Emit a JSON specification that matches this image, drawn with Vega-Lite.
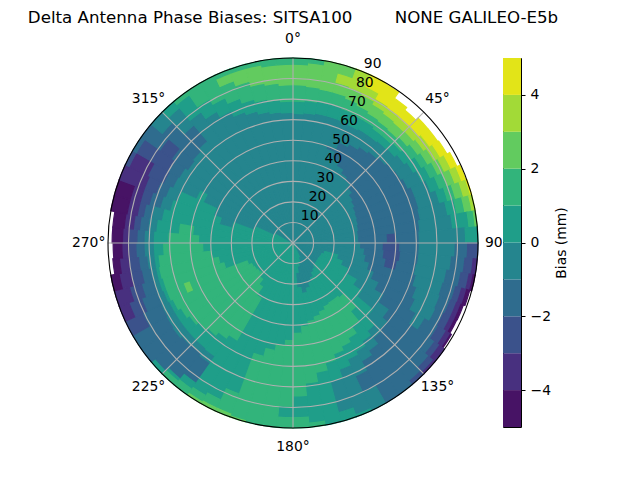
{"$schema":"https://vega.github.io/schema/vega-lite/v6.json","padding":{"left":27,"top":10,"right":0,"bottom":0},"background":"white","bounds":"flush","spacing":25,"config":{"view":{"stroke":null},"font":"DejaVu Sans"},"datasets":{"cells":[
{"a":0,"c":5,"z":0,"w":63,"b":-0.5},{"a":0,"c":5,"z":63,"w":69,"b":0.5},{"a":0,"c":5,"z":69,"w":77,"b":1.5},{"a":0,"c":5,"z":77,"w":87,"b":2.5},{"a":0,"c":5,"z":87,"w":90,"b":1.5},
{"a":5,"c":10,"z":0,"w":63.5,"b":-0.5},{"a":5,"c":10,"z":63.5,"w":69.5,"b":0.5},{"a":5,"c":10,"z":69.5,"w":76.5,"b":1.5},{"a":5,"c":10,"z":76.5,"w":88,"b":2.5},{"a":5,"c":10,"z":88,"w":90,"b":1.5},
{"a":10,"c":15,"z":0,"w":64,"b":-0.5},{"a":10,"c":15,"z":64,"w":70,"b":0.5},{"a":10,"c":15,"z":70,"w":76,"b":1.5},{"a":10,"c":15,"z":76,"w":90,"b":2.5},
{"a":15,"c":20,"z":0,"w":64,"b":-0.5},{"a":15,"c":20,"z":64,"w":70,"b":0.5},{"a":15,"c":20,"z":70,"w":76,"b":1.5},{"a":15,"c":20,"z":76,"w":81,"b":2.5},{"a":15,"c":20,"z":81,"w":85.5,"b":3.5},{"a":15,"c":20,"z":85.5,"w":90,"b":2.5},
{"a":20,"c":25,"z":0,"w":49,"b":-0.5},{"a":20,"c":25,"z":49,"w":50,"b":-1.5},{"a":20,"c":25,"z":50,"w":64,"b":-0.5},{"a":20,"c":25,"z":64,"w":69.5,"b":0.5},{"a":20,"c":25,"z":69.5,"w":75,"b":1.5},{"a":20,"c":25,"z":75,"w":80.5,"b":2.5},{"a":20,"c":25,"z":80.5,"w":90,"b":3.5},
{"a":25,"c":30,"z":0,"w":46,"b":-0.5},{"a":25,"c":30,"z":46,"w":54,"b":-1.5},{"a":25,"c":30,"z":54,"w":63.5,"b":-0.5},{"a":25,"c":30,"z":63.5,"w":69,"b":0.5},{"a":25,"c":30,"z":69,"w":74,"b":1.5},{"a":25,"c":30,"z":74,"w":79.5,"b":2.5},{"a":25,"c":30,"z":79.5,"w":84,"b":3.5},{"a":25,"c":30,"z":84,"w":90,"b":4.5},
{"a":30,"c":35,"z":0,"w":43.5,"b":-0.5},{"a":30,"c":35,"z":43.5,"w":55.5,"b":-1.5},{"a":30,"c":35,"z":55.5,"w":64,"b":-0.5},{"a":30,"c":35,"z":64,"w":69,"b":0.5},{"a":30,"c":35,"z":69,"w":73,"b":1.5},{"a":30,"c":35,"z":73,"w":78,"b":2.5},{"a":30,"c":35,"z":78,"w":81,"b":3.5},{"a":30,"c":35,"z":81,"w":89.5,"b":4.5},
{"a":35,"c":40,"z":0,"w":41.5,"b":-0.5},{"a":35,"c":40,"z":41.5,"w":57,"b":-1.5},{"a":35,"c":40,"z":57,"w":64,"b":-0.5},{"a":35,"c":40,"z":64,"w":68,"b":0.5},{"a":35,"c":40,"z":68,"w":72.5,"b":1.5},{"a":35,"c":40,"z":72.5,"w":77,"b":2.5},{"a":35,"c":40,"z":77,"w":80.5,"b":3.5},{"a":35,"c":40,"z":80.5,"w":86,"b":4.5},
{"a":40,"c":45,"z":0,"w":40,"b":-0.5},{"a":40,"c":45,"z":40,"w":58,"b":-1.5},{"a":40,"c":45,"z":58,"w":64.5,"b":-0.5},{"a":40,"c":45,"z":64.5,"w":68,"b":0.5},{"a":40,"c":45,"z":68,"w":72,"b":1.5},{"a":40,"c":45,"z":72,"w":76.5,"b":2.5},{"a":40,"c":45,"z":76.5,"w":80,"b":3.5},{"a":40,"c":45,"z":80,"w":84.5,"b":4.5},
{"a":45,"c":50,"z":0,"w":38,"b":-0.5},{"a":45,"c":50,"z":38,"w":59,"b":-1.5},{"a":45,"c":50,"z":59,"w":65,"b":-0.5},{"a":45,"c":50,"z":65,"w":69,"b":0.5},{"a":45,"c":50,"z":69,"w":73,"b":1.5},{"a":45,"c":50,"z":73,"w":77,"b":2.5},{"a":45,"c":50,"z":77,"w":80.5,"b":3.5},{"a":45,"c":50,"z":80.5,"w":86,"b":4.5},
{"a":50,"c":55,"z":0,"w":36,"b":-0.5},{"a":50,"c":55,"z":36,"w":60,"b":-1.5},{"a":50,"c":55,"z":60,"w":66.5,"b":-0.5},{"a":50,"c":55,"z":66.5,"w":70.5,"b":0.5},{"a":50,"c":55,"z":70.5,"w":74.5,"b":1.5},{"a":50,"c":55,"z":74.5,"w":78,"b":2.5},{"a":50,"c":55,"z":78,"w":81.5,"b":3.5},{"a":50,"c":55,"z":81.5,"w":86,"b":4.5},
{"a":55,"c":60,"z":0,"w":35,"b":-0.5},{"a":55,"c":60,"z":35,"w":61,"b":-1.5},{"a":55,"c":60,"z":61,"w":68,"b":-0.5},{"a":55,"c":60,"z":68,"w":72.5,"b":0.5},{"a":55,"c":60,"z":72.5,"w":76,"b":1.5},{"a":55,"c":60,"z":76,"w":79.5,"b":2.5},{"a":55,"c":60,"z":79.5,"w":83,"b":3.5},{"a":55,"c":60,"z":83,"w":86.5,"b":4.5},
{"a":60,"c":65,"z":0,"w":34,"b":-0.5},{"a":60,"c":65,"z":34,"w":62,"b":-1.5},{"a":60,"c":65,"z":62,"w":69.5,"b":-0.5},{"a":60,"c":65,"z":69.5,"w":74,"b":0.5},{"a":60,"c":65,"z":74,"w":78,"b":1.5},{"a":60,"c":65,"z":78,"w":81.5,"b":2.5},{"a":60,"c":65,"z":81.5,"w":85,"b":3.5},{"a":60,"c":65,"z":85,"w":88,"b":4.5},
{"a":65,"c":70,"z":0,"w":33.5,"b":-0.5},{"a":65,"c":70,"z":33.5,"w":63.5,"b":-1.5},{"a":65,"c":70,"z":63.5,"w":71.5,"b":-0.5},{"a":65,"c":70,"z":71.5,"w":76,"b":0.5},{"a":65,"c":70,"z":76,"w":80,"b":1.5},{"a":65,"c":70,"z":80,"w":84,"b":2.5},{"a":65,"c":70,"z":84,"w":87.5,"b":3.5},{"a":65,"c":70,"z":87.5,"w":89.5,"b":4.5},
{"a":70,"c":75,"z":0,"w":33,"b":-0.5},{"a":70,"c":75,"z":33,"w":63.5,"b":-1.5},{"a":70,"c":75,"z":63.5,"w":74,"b":-0.5},{"a":70,"c":75,"z":74,"w":78,"b":0.5},{"a":70,"c":75,"z":78,"w":82,"b":1.5},{"a":70,"c":75,"z":82,"w":86,"b":2.5},{"a":70,"c":75,"z":86,"w":89.5,"b":3.5},{"a":70,"c":75,"z":89.5,"w":90,"b":4.5},
{"a":75,"c":80,"z":0,"w":32.5,"b":-0.5},{"a":75,"c":80,"z":32.5,"w":63,"b":-1.5},{"a":75,"c":80,"z":63,"w":76.5,"b":-0.5},{"a":75,"c":80,"z":76.5,"w":81,"b":0.5},{"a":75,"c":80,"z":81,"w":85,"b":1.5},{"a":75,"c":80,"z":85,"w":88.5,"b":2.5},{"a":75,"c":80,"z":88.5,"w":90,"b":3.5},
{"a":80,"c":85,"z":0,"w":32,"b":-0.5},{"a":80,"c":85,"z":32,"w":62,"b":-1.5},{"a":80,"c":85,"z":62,"w":78,"b":-0.5},{"a":80,"c":85,"z":78,"w":86,"b":0.5},{"a":80,"c":85,"z":86,"w":89,"b":1.5},{"a":80,"c":85,"z":89,"w":90,"b":2.5},
{"a":85,"c":90,"z":0,"w":32,"b":-0.5},{"a":85,"c":90,"z":32,"w":46,"b":-1.5},{"a":85,"c":90,"z":46,"w":50,"b":-2.5},{"a":85,"c":90,"z":50,"w":61.5,"b":-1.5},{"a":85,"c":90,"z":61.5,"w":84,"b":-0.5},{"a":85,"c":90,"z":84,"w":90,"b":0.5},
{"a":90,"c":95,"z":0,"w":33,"b":-0.5},{"a":90,"c":95,"z":33,"w":44,"b":-1.5},{"a":90,"c":95,"z":44,"w":52,"b":-2.5},{"a":90,"c":95,"z":52,"w":61.5,"b":-1.5},{"a":90,"c":95,"z":61.5,"w":79,"b":-0.5},{"a":90,"c":95,"z":79,"w":85,"b":-1.5},{"a":90,"c":95,"z":85,"w":90,"b":-2.5},
{"a":95,"c":100,"z":0,"w":35,"b":-0.5},{"a":95,"c":100,"z":35,"w":44.5,"b":-1.5},{"a":95,"c":100,"z":44.5,"w":52.5,"b":-2.5},{"a":95,"c":100,"z":52.5,"w":61.5,"b":-1.5},{"a":95,"c":100,"z":61.5,"w":77.5,"b":-0.5},{"a":95,"c":100,"z":77.5,"w":84,"b":-1.5},{"a":95,"c":100,"z":84,"w":88,"b":-2.5},{"a":95,"c":100,"z":88,"w":90,"b":-3.5},
{"a":100,"c":105,"z":0,"w":36,"b":-0.5},{"a":100,"c":105,"z":36,"w":46,"b":-1.5},{"a":100,"c":105,"z":46,"w":51.5,"b":-2.5},{"a":100,"c":105,"z":51.5,"w":61,"b":-1.5},{"a":100,"c":105,"z":61,"w":76,"b":-0.5},{"a":100,"c":105,"z":76,"w":83,"b":-1.5},{"a":100,"c":105,"z":83,"w":87,"b":-2.5},{"a":100,"c":105,"z":87,"w":89,"b":-3.5},{"a":100,"c":105,"z":89,"w":90,"b":-4.5},
{"a":105,"c":110,"z":0,"w":16,"b":-0.5},{"a":105,"c":110,"z":16,"w":23,"b":0.5},{"a":105,"c":110,"z":23,"w":38.5,"b":-0.5},{"a":105,"c":110,"z":38.5,"w":62,"b":-1.5},{"a":105,"c":110,"z":62,"w":75.5,"b":-0.5},{"a":105,"c":110,"z":75.5,"w":82,"b":-1.5},{"a":105,"c":110,"z":82,"w":85,"b":-2.5},{"a":105,"c":110,"z":85,"w":87.5,"b":-3.5},{"a":105,"c":110,"z":87.5,"w":89,"b":-4.5},
{"a":110,"c":115,"z":0,"w":15,"b":-0.5},{"a":110,"c":115,"z":15,"w":26,"b":0.5},{"a":110,"c":115,"z":26,"w":42,"b":-0.5},{"a":110,"c":115,"z":42,"w":64,"b":-1.5},{"a":110,"c":115,"z":64,"w":76,"b":-0.5},{"a":110,"c":115,"z":76,"w":81.5,"b":-1.5},{"a":110,"c":115,"z":81.5,"w":84.7,"b":-2.5},{"a":110,"c":115,"z":84.7,"w":87,"b":-3.5},{"a":110,"c":115,"z":87,"w":88.2,"b":-4.5},
{"a":115,"c":120,"z":0,"w":14.7,"b":-0.5},{"a":115,"c":120,"z":14.7,"w":30,"b":0.5},{"a":115,"c":120,"z":30,"w":46,"b":-0.5},{"a":115,"c":120,"z":46,"w":65.5,"b":-1.5},{"a":115,"c":120,"z":65.5,"w":76.5,"b":-0.5},{"a":115,"c":120,"z":76.5,"w":81,"b":-1.5},{"a":115,"c":120,"z":81,"w":84.7,"b":-2.5},{"a":115,"c":120,"z":84.7,"w":87,"b":-3.5},{"a":115,"c":120,"z":87,"w":88,"b":-4.5},
{"a":120,"c":125,"z":0,"w":14.5,"b":-0.5},{"a":120,"c":125,"z":14.5,"w":36,"b":0.5},{"a":120,"c":125,"z":36,"w":51,"b":-0.5},{"a":120,"c":125,"z":51,"w":69,"b":-1.5},{"a":120,"c":125,"z":69,"w":74,"b":-0.5},{"a":120,"c":125,"z":74,"w":81.5,"b":-1.5},{"a":120,"c":125,"z":81.5,"w":86,"b":-2.5},{"a":120,"c":125,"z":86,"w":88.5,"b":-3.5},{"a":120,"c":125,"z":88.5,"w":89,"b":-4.5},
{"a":125,"c":130,"z":0,"w":14.5,"b":-0.5},{"a":125,"c":130,"z":14.5,"w":41,"b":0.5},{"a":125,"c":130,"z":41,"w":57,"b":-0.5},{"a":125,"c":130,"z":57,"w":84,"b":-1.5},{"a":125,"c":130,"z":84,"w":87,"b":-2.5},{"a":125,"c":130,"z":87,"w":90,"b":-3.5},
{"a":130,"c":135,"z":0,"w":14.7,"b":-0.5},{"a":130,"c":135,"z":14.7,"w":51,"b":0.5},{"a":130,"c":135,"z":51,"w":60,"b":-0.5},{"a":130,"c":135,"z":60,"w":86,"b":-1.5},{"a":130,"c":135,"z":86,"w":89,"b":-2.5},{"a":130,"c":135,"z":89,"w":90,"b":-3.5},
{"a":135,"c":140,"z":0,"w":15,"b":-0.5},{"a":135,"c":140,"z":15,"w":35,"b":0.5},{"a":135,"c":140,"z":35,"w":44,"b":1.5},{"a":135,"c":140,"z":44,"w":56.5,"b":0.5},{"a":135,"c":140,"z":56.5,"w":61,"b":-0.5},{"a":135,"c":140,"z":61,"w":88,"b":-1.5},{"a":135,"c":140,"z":88,"w":90,"b":-2.5},
{"a":140,"c":145,"z":0,"w":16,"b":-0.5},{"a":140,"c":145,"z":16,"w":34,"b":0.5},{"a":140,"c":145,"z":34,"w":50,"b":1.5},{"a":140,"c":145,"z":50,"w":59,"b":0.5},{"a":140,"c":145,"z":59,"w":64.5,"b":-0.5},{"a":140,"c":145,"z":64.5,"w":90,"b":-1.5},
{"a":145,"c":150,"z":0,"w":17,"b":-0.5},{"a":145,"c":150,"z":17,"w":34,"b":0.5},{"a":145,"c":150,"z":34,"w":54,"b":1.5},{"a":145,"c":150,"z":54,"w":61.5,"b":0.5},{"a":145,"c":150,"z":61.5,"w":67,"b":-0.5},{"a":145,"c":150,"z":67,"w":90,"b":-1.5},
{"a":150,"c":155,"z":0,"w":19,"b":-0.5},{"a":150,"c":155,"z":19,"w":34.5,"b":0.5},{"a":150,"c":155,"z":34.5,"w":56,"b":1.5},{"a":150,"c":155,"z":56,"w":63,"b":0.5},{"a":150,"c":155,"z":63,"w":72,"b":-0.5},{"a":150,"c":155,"z":72,"w":80.5,"b":-1.5},{"a":150,"c":155,"z":80.5,"w":90,"b":-0.5},
{"a":155,"c":160,"z":0,"w":8,"b":0.5},{"a":155,"c":160,"z":8,"w":21,"b":-0.5},{"a":155,"c":160,"z":21,"w":36,"b":0.5},{"a":155,"c":160,"z":36,"w":58,"b":1.5},{"a":155,"c":160,"z":58,"w":66,"b":0.5},{"a":155,"c":160,"z":66,"w":89,"b":-0.5},{"a":155,"c":160,"z":89,"w":90,"b":0.5},
{"a":160,"c":165,"z":0,"w":10,"b":0.5},{"a":160,"c":165,"z":10,"w":23,"b":-0.5},{"a":160,"c":165,"z":23,"w":37.5,"b":0.5},{"a":160,"c":165,"z":37.5,"w":61,"b":1.5},{"a":160,"c":165,"z":61,"w":70,"b":0.5},{"a":160,"c":165,"z":70,"w":85.5,"b":-0.5},{"a":160,"c":165,"z":85.5,"w":90,"b":0.5},
{"a":165,"c":170,"z":0,"w":12,"b":0.5},{"a":165,"c":170,"z":12,"w":25,"b":-0.5},{"a":165,"c":170,"z":25,"w":39,"b":0.5},{"a":165,"c":170,"z":39,"w":64.5,"b":1.5},{"a":165,"c":170,"z":64.5,"w":90,"b":0.5},
{"a":170,"c":175,"z":0,"w":15,"b":0.5},{"a":170,"c":175,"z":15,"w":22,"b":-0.5},{"a":170,"c":175,"z":22,"w":41,"b":0.5},{"a":170,"c":175,"z":41,"w":69,"b":1.5},{"a":170,"c":175,"z":69,"w":88,"b":0.5},{"a":170,"c":175,"z":88,"w":90,"b":1.5},
{"a":175,"c":180,"z":0,"w":44,"b":0.5},{"a":175,"c":180,"z":44,"w":75,"b":1.5},{"a":175,"c":180,"z":75,"w":85,"b":0.5},{"a":175,"c":180,"z":85,"w":90,"b":1.5},
{"a":180,"c":185,"z":0,"w":47.5,"b":0.5},{"a":180,"c":185,"z":47.5,"w":80,"b":1.5},{"a":180,"c":185,"z":80,"w":85,"b":0.5},{"a":180,"c":185,"z":85,"w":90,"b":1.5},
{"a":185,"c":190,"z":0,"w":50,"b":0.5},{"a":185,"c":190,"z":50,"w":90,"b":1.5},
{"a":190,"c":195,"z":0,"w":53,"b":0.5},{"a":190,"c":195,"z":53,"w":90,"b":1.5},
{"a":195,"c":200,"z":0,"w":57,"b":0.5},{"a":195,"c":200,"z":57,"w":89.5,"b":1.5},{"a":195,"c":200,"z":89.5,"w":90,"b":2.5},
{"a":200,"c":205,"z":0,"w":78,"b":0.5},{"a":200,"c":205,"z":78,"w":88.5,"b":1.5},{"a":200,"c":205,"z":88.5,"w":90,"b":2.5},
{"a":205,"c":210,"z":0,"w":84,"b":0.5},{"a":205,"c":210,"z":84,"w":88.5,"b":1.5},{"a":205,"c":210,"z":88.5,"w":90,"b":2.5},
{"a":210,"c":215,"z":0,"w":31,"b":0.5},{"a":210,"c":215,"z":31,"w":55,"b":1.5},{"a":210,"c":215,"z":55,"w":85.5,"b":0.5},{"a":210,"c":215,"z":85.5,"w":89,"b":1.5},{"a":210,"c":215,"z":89,"w":90,"b":2.5},
{"a":215,"c":220,"z":0,"w":26,"b":0.5},{"a":215,"c":220,"z":26,"w":57,"b":1.5},{"a":215,"c":220,"z":57,"w":67.4,"b":0.5},{"a":215,"c":220,"z":67.4,"w":71.5,"b":-0.5},{"a":215,"c":220,"z":71.5,"w":83,"b":-1.5},{"a":215,"c":220,"z":83,"w":86.5,"b":0.5},{"a":215,"c":220,"z":86.5,"w":90,"b":1.5},
{"a":220,"c":225,"z":0,"w":23,"b":0.5},{"a":220,"c":225,"z":23,"w":59,"b":1.5},{"a":220,"c":225,"z":59,"w":67,"b":0.5},{"a":220,"c":225,"z":67,"w":70.5,"b":-0.5},{"a":220,"c":225,"z":70.5,"w":86,"b":-1.5},{"a":220,"c":225,"z":86,"w":87.5,"b":0.5},{"a":220,"c":225,"z":87.5,"w":90,"b":1.5},
{"a":225,"c":230,"z":0,"w":21,"b":0.5},{"a":225,"c":230,"z":21,"w":60.5,"b":1.5},{"a":225,"c":230,"z":60.5,"w":67,"b":0.5},{"a":225,"c":230,"z":67,"w":71,"b":-0.5},{"a":225,"c":230,"z":71,"w":88,"b":-1.5},{"a":225,"c":230,"z":88,"w":90,"b":0.5},
{"a":230,"c":235,"z":0,"w":21.5,"b":0.5},{"a":230,"c":235,"z":21.5,"w":62,"b":1.5},{"a":230,"c":235,"z":62,"w":67,"b":0.5},{"a":230,"c":235,"z":67,"w":72,"b":-0.5},{"a":230,"c":235,"z":72,"w":90,"b":-1.5},
{"a":235,"c":240,"z":0,"w":22,"b":0.5},{"a":235,"c":240,"z":22,"w":63.5,"b":1.5},{"a":235,"c":240,"z":63.5,"w":67,"b":0.5},{"a":235,"c":240,"z":67,"w":71.5,"b":-0.5},{"a":235,"c":240,"z":71.5,"w":90,"b":-1.5},
{"a":240,"c":245,"z":0,"w":22.5,"b":0.5},{"a":240,"c":245,"z":22.5,"w":65,"b":1.5},{"a":240,"c":245,"z":65,"w":67,"b":0.5},{"a":240,"c":245,"z":67,"w":71,"b":-0.5},{"a":240,"c":245,"z":71,"w":81,"b":-1.5},{"a":240,"c":245,"z":81,"w":90,"b":-2.5},
{"a":245,"c":250,"z":0,"w":24,"b":0.5},{"a":245,"c":250,"z":24,"w":54,"b":1.5},{"a":245,"c":250,"z":54,"w":57,"b":2.5},{"a":245,"c":250,"z":57,"w":66,"b":1.5},{"a":245,"c":250,"z":66,"w":67.5,"b":0.5},{"a":245,"c":250,"z":67.5,"w":70.7,"b":-0.5},{"a":245,"c":250,"z":70.7,"w":78.5,"b":-1.5},{"a":245,"c":250,"z":78.5,"w":85,"b":-2.5},{"a":245,"c":250,"z":85,"w":90,"b":-3.5},
{"a":250,"c":255,"z":0,"w":35,"b":0.5},{"a":250,"c":255,"z":35,"w":66,"b":1.5},{"a":250,"c":255,"z":66,"w":68,"b":0.5},{"a":250,"c":255,"z":68,"w":70.5,"b":-0.5},{"a":250,"c":255,"z":70.5,"w":76.5,"b":-1.5},{"a":250,"c":255,"z":76.5,"w":82.5,"b":-2.5},{"a":250,"c":255,"z":82.5,"w":90,"b":-3.5},
{"a":255,"c":260,"z":0,"w":37,"b":0.5},{"a":255,"c":260,"z":37,"w":66.5,"b":1.5},{"a":255,"c":260,"z":66.5,"w":68,"b":0.5},{"a":255,"c":260,"z":68,"w":70.7,"b":-0.5},{"a":255,"c":260,"z":70.7,"w":75,"b":-1.5},{"a":255,"c":260,"z":75,"w":80.5,"b":-2.5},{"a":255,"c":260,"z":80.5,"w":86,"b":-3.5},{"a":255,"c":260,"z":86,"w":90,"b":-4.5},
{"a":260,"c":265,"z":0,"w":40,"b":0.5},{"a":260,"c":265,"z":40,"w":66,"b":1.5},{"a":260,"c":265,"z":66,"w":68,"b":0.5},{"a":260,"c":265,"z":68,"w":71.5,"b":-0.5},{"a":260,"c":265,"z":71.5,"w":75.5,"b":-1.5},{"a":260,"c":265,"z":75.5,"w":80.3,"b":-2.5},{"a":260,"c":265,"z":80.3,"w":84.8,"b":-3.5},{"a":260,"c":265,"z":84.8,"w":88,"b":-4.5},
{"a":265,"c":270,"z":0,"w":44,"b":0.5},{"a":265,"c":270,"z":44,"w":63.5,"b":1.5},{"a":265,"c":270,"z":63.5,"w":68,"b":0.5},{"a":265,"c":270,"z":68,"w":72.5,"b":-0.5},{"a":265,"c":270,"z":72.5,"w":76.5,"b":-1.5},{"a":265,"c":270,"z":76.5,"w":80,"b":-2.5},{"a":265,"c":270,"z":80,"w":83.3,"b":-3.5},{"a":265,"c":270,"z":83.3,"w":87.5,"b":-4.5},
{"a":270,"c":275,"z":0,"w":46,"b":0.5},{"a":270,"c":275,"z":46,"w":61,"b":1.5},{"a":270,"c":275,"z":61,"w":68,"b":0.5},{"a":270,"c":275,"z":68,"w":72.5,"b":-0.5},{"a":270,"c":275,"z":72.5,"w":76,"b":-1.5},{"a":270,"c":275,"z":76,"w":80,"b":-2.5},{"a":270,"c":275,"z":80,"w":83,"b":-3.5},{"a":270,"c":275,"z":83,"w":88,"b":-4.5},
{"a":275,"c":280,"z":0,"w":49,"b":0.5},{"a":275,"c":280,"z":49,"w":56,"b":1.5},{"a":275,"c":280,"z":56,"w":67,"b":0.5},{"a":275,"c":280,"z":67,"w":71,"b":-0.5},{"a":275,"c":280,"z":71,"w":75,"b":-1.5},{"a":275,"c":280,"z":75,"w":78,"b":-2.5},{"a":275,"c":280,"z":78,"w":82.5,"b":-3.5},{"a":275,"c":280,"z":82.5,"w":88,"b":-4.5},
{"a":280,"c":285,"z":0,"w":65,"b":0.5},{"a":280,"c":285,"z":65,"w":70,"b":-0.5},{"a":280,"c":285,"z":70,"w":74,"b":-1.5},{"a":280,"c":285,"z":74,"w":77,"b":-2.5},{"a":280,"c":285,"z":77,"w":82,"b":-3.5},{"a":280,"c":285,"z":82,"w":90,"b":-4.5},
{"a":285,"c":290,"z":0,"w":31,"b":0.5},{"a":285,"c":290,"z":31,"w":37,"b":-0.5},{"a":285,"c":290,"z":37,"w":62,"b":0.5},{"a":285,"c":290,"z":62,"w":67,"b":-0.5},{"a":285,"c":290,"z":67,"w":72.5,"b":-1.5},{"a":285,"c":290,"z":72.5,"w":77,"b":-2.5},{"a":285,"c":290,"z":77,"w":82,"b":-3.5},{"a":285,"c":290,"z":82,"w":90,"b":-4.5},
{"a":290,"c":295,"z":0,"w":20,"b":0.5},{"a":290,"c":295,"z":20,"w":41,"b":-0.5},{"a":290,"c":295,"z":41,"w":60,"b":0.5},{"a":290,"c":295,"z":60,"w":66,"b":-0.5},{"a":290,"c":295,"z":66,"w":71,"b":-1.5},{"a":290,"c":295,"z":71,"w":77,"b":-2.5},{"a":290,"c":295,"z":77,"w":90,"b":-3.5},
{"a":295,"c":300,"z":0,"w":10,"b":0.5},{"a":295,"c":300,"z":10,"w":48,"b":-0.5},{"a":295,"c":300,"z":48,"w":52,"b":0.5},{"a":295,"c":300,"z":52,"w":64.5,"b":-0.5},{"a":295,"c":300,"z":64.5,"w":69.5,"b":-1.5},{"a":295,"c":300,"z":69.5,"w":78,"b":-2.5},{"a":295,"c":300,"z":78,"w":88,"b":-3.5},{"a":295,"c":300,"z":88,"w":90,"b":-2.5},
{"a":300,"c":305,"z":0,"w":64,"b":-0.5},{"a":300,"c":305,"z":64,"w":70,"b":-1.5},{"a":300,"c":305,"z":70,"w":88,"b":-2.5},{"a":300,"c":305,"z":88,"w":90,"b":-1.5},
{"a":305,"c":310,"z":0,"w":62.5,"b":-0.5},{"a":305,"c":310,"z":62.5,"w":72,"b":-1.5},{"a":305,"c":310,"z":72,"w":79,"b":-2.5},{"a":305,"c":310,"z":79,"w":90,"b":-1.5},
{"a":310,"c":315,"z":0,"w":63.5,"b":-0.5},{"a":310,"c":315,"z":63.5,"w":83,"b":-1.5},{"a":310,"c":315,"z":83,"w":90,"b":-0.5},
{"a":315,"c":320,"z":0,"w":65,"b":-0.5},{"a":315,"c":320,"z":65,"w":75,"b":-1.5},{"a":315,"c":320,"z":75,"w":86,"b":-0.5},{"a":315,"c":320,"z":86,"w":90,"b":0.5},
{"a":320,"c":325,"z":0,"w":78,"b":-0.5},{"a":320,"c":325,"z":78,"w":88,"b":0.5},{"a":320,"c":325,"z":88,"w":90,"b":1.5},
{"a":325,"c":330,"z":0,"w":74,"b":-0.5},{"a":325,"c":330,"z":74,"w":81,"b":0.5},{"a":325,"c":330,"z":81,"w":90,"b":1.5},
{"a":330,"c":335,"z":0,"w":71,"b":-0.5},{"a":330,"c":335,"z":71,"w":78,"b":0.5},{"a":330,"c":335,"z":78,"w":90,"b":1.5},
{"a":335,"c":340,"z":0,"w":68,"b":-0.5},{"a":335,"c":340,"z":68,"w":75,"b":0.5},{"a":335,"c":340,"z":75,"w":84,"b":1.5},{"a":335,"c":340,"z":84,"w":88,"b":2.5},{"a":335,"c":340,"z":88,"w":90,"b":1.5},
{"a":340,"c":345,"z":0,"w":66.5,"b":-0.5},{"a":340,"c":345,"z":66.5,"w":72.5,"b":0.5},{"a":340,"c":345,"z":72.5,"w":81.5,"b":1.5},{"a":340,"c":345,"z":81.5,"w":88,"b":2.5},{"a":340,"c":345,"z":88,"w":90,"b":1.5},
{"a":345,"c":350,"z":0,"w":65,"b":-0.5},{"a":345,"c":350,"z":65,"w":71,"b":0.5},{"a":345,"c":350,"z":71,"w":79,"b":1.5},{"a":345,"c":350,"z":79,"w":88,"b":2.5},{"a":345,"c":350,"z":88,"w":90,"b":1.5},
{"a":350,"c":355,"z":0,"w":64,"b":-0.5},{"a":350,"c":355,"z":64,"w":70,"b":0.5},{"a":350,"c":355,"z":70,"w":78,"b":1.5},{"a":350,"c":355,"z":78,"w":87,"b":2.5},{"a":350,"c":355,"z":87,"w":90,"b":1.5},
{"a":355,"c":360,"z":0,"w":63.5,"b":-0.5},{"a":355,"c":360,"z":63.5,"w":69,"b":0.5},{"a":355,"c":360,"z":69,"w":77,"b":1.5},{"a":355,"c":360,"z":77,"w":87,"b":2.5},{"a":355,"c":360,"z":87,"w":90,"b":1.5}
],"levels":[{"b":-4.5,"lo":-5,"hi":-4},{"b":-3.5,"lo":-4,"hi":-3},{"b":-2.5,"lo":-3,"hi":-2},{"b":-1.5,"lo":-2,"hi":-1},{"b":-0.5,"lo":-1,"hi":0},{"b":0.5,"lo":0,"hi":1},{"b":1.5,"lo":1,"hi":2},{"b":2.5,"lo":2,"hi":3},{"b":3.5,"lo":3,"hi":4},{"b":4.5,"lo":4,"hi":5}]},
"hconcat":[{"width":370,"height":370,"title":{"text":"Delta Antenna Phase Biases: SITSA100\u00a0\u00a0\u00a0\u00a0\u00a0\u00a0\u00a0\u00a0NONE GALILEO-E5b","font":"DejaVu Sans","fontSize":16.67,"fontWeight":"normal","anchor":"middle","color":"black","offset":5},
"layer":[
{"data":{"name":"cells"},"mark":{"type":"arc","strokeWidth":1.2},"encoding":{"theta":{"field":"a","type":"quantitative","stack":null,"scale":{"domain":[0,360],"range":[0,6.283185307]}},"theta2":{"field":"c"},"radius":{"field":"w","type":"quantitative","stack":null,"scale":{"domain":[0,90],"range":[0,185]}},"radius2":{"field":"z"},"color":{"field":"b","type":"ordinal","legend":null,"scale":{"domain":[-4.5,-3.5,-2.5,-1.5,-0.5,0.5,1.5,2.5,3.5,4.5],"range":["#471365","#48307f","#3b528b","#2f6c8e","#25858e","#1f9e89","#32b47b","#62cb5f","#a2da37","#e2e418"]}},"stroke":{"field":"b","type":"ordinal","legend":null,"scale":{"domain":[-4.5,-3.5,-2.5,-1.5,-0.5,0.5,1.5,2.5,3.5,4.5],"range":["#471365","#48307f","#3b528b","#2f6c8e","#25858e","#1f9e89","#32b47b","#62cb5f","#a2da37","#e2e418"]}}}},
{"data":{"values":[{"r":10},{"r":20},{"r":30},{"r":40},{"r":50},{"r":60},{"r":70},{"r":80}]},"mark":{"type":"arc","theta":0,"theta2":6.2832,"fillOpacity":0,"stroke":"#b0b0b0","strokeWidth":1.1},"encoding":{"radius":{"field":"r","type":"quantitative","stack":null,"scale":{"domain":[0,90],"range":[0,185]}}}},
{"data":{"values":[{"az":0},{"az":45},{"az":90},{"az":135},{"az":180},{"az":225},{"az":270},{"az":315}]},"transform":[{"calculate":"90*sin(datum.az*PI/180)","as":"px"},{"calculate":"90*cos(datum.az*PI/180)","as":"py"},{"calculate":"0","as":"o"}],"mark":{"type":"rule","stroke":"#b0b0b0","strokeWidth":1.1},"encoding":{"x":{"field":"o","type":"quantitative","axis":null,"scale":{"domain":[-90,90]}},"y":{"field":"o","type":"quantitative","axis":null,"scale":{"domain":[-90,90]}},"x2":{"field":"px"},"y2":{"field":"py"}}},
{"data":{"values":[{"r":90}]},"mark":{"type":"arc","theta":0,"theta2":6.2832,"fillOpacity":0,"stroke":"black","strokeWidth":1.1},"encoding":{"radius":{"field":"r","type":"quantitative","stack":null,"scale":{"domain":[0,90],"range":[0,185]}}}},
{"data":{"values":[{"r":10},{"r":20},{"r":30},{"r":40},{"r":50},{"r":60},{"r":70},{"r":80},{"r":90}]},"transform":[{"calculate":"datum.r*sin(22.5*PI/180)","as":"px"},{"calculate":"datum.r*cos(22.5*PI/180)","as":"py"}],"mark":{"type":"text","align":"left","baseline":"line-bottom","font":"DejaVu Sans","fontSize":13.9,"color":"black"},"encoding":{"x":{"field":"px","type":"quantitative","axis":null,"scale":{"domain":[-90,90]}},"y":{"field":"py","type":"quantitative","axis":null,"scale":{"domain":[-90,90]}},"text":{"field":"r","type":"nominal"}}},
{"data":{"values":[{"az":0,"t":"0°"},{"az":45,"t":"45°"},{"az":90,"t":"90°"},{"az":135,"t":"135°"},{"az":180,"t":"180°"},{"az":225,"t":"225°"},{"az":270,"t":"270°"},{"az":315,"t":"315°"}]},"transform":[{"calculate":"99.4*sin(datum.az*PI/180)","as":"px"},{"calculate":"99.4*cos(datum.az*PI/180)","as":"py"}],"mark":{"type":"text","align":"center","baseline":"middle","font":"DejaVu Sans","fontSize":13.9,"color":"black"},"encoding":{"x":{"field":"px","type":"quantitative","axis":null,"scale":{"domain":[-90,90]}},"y":{"field":"py","type":"quantitative","axis":null,"scale":{"domain":[-90,90]}},"text":{"field":"t","type":"nominal"}}}
]},
{"width":18,"height":369,"view":{"stroke":"black","strokeWidth":1},"data":{"name":"levels"},"mark":{"type":"rect","strokeWidth":0},"encoding":{"y":{"field":"lo","type":"quantitative","scale":{"domain":[-5,5],"nice":false},"axis":{"orient":"right","values":[-4,-2,0,2,4],"grid":false,"domain":false,"tickColor":"black","tickSize":4,"labelColor":"black","labelFont":"DejaVu Sans","labelFontSize":13.9,"labelExpr":"replace(datum.label,'-','−')","labelPadding":5,"title":"Bias (mm)","titleFont":"DejaVu Sans","titleFontSize":13.9,"titleFontWeight":"normal","titleColor":"black","titleAngle":270,"titlePadding":18}},"y2":{"field":"hi"},"color":{"field":"b","type":"ordinal","legend":null,"scale":{"domain":[-4.5,-3.5,-2.5,-1.5,-0.5,0.5,1.5,2.5,3.5,4.5],"range":["#471365","#48307f","#3b528b","#2f6c8e","#25858e","#1f9e89","#32b47b","#62cb5f","#a2da37","#e2e418"]}}}}
],"resolve":{"scale":{"color":"independent"}}}
